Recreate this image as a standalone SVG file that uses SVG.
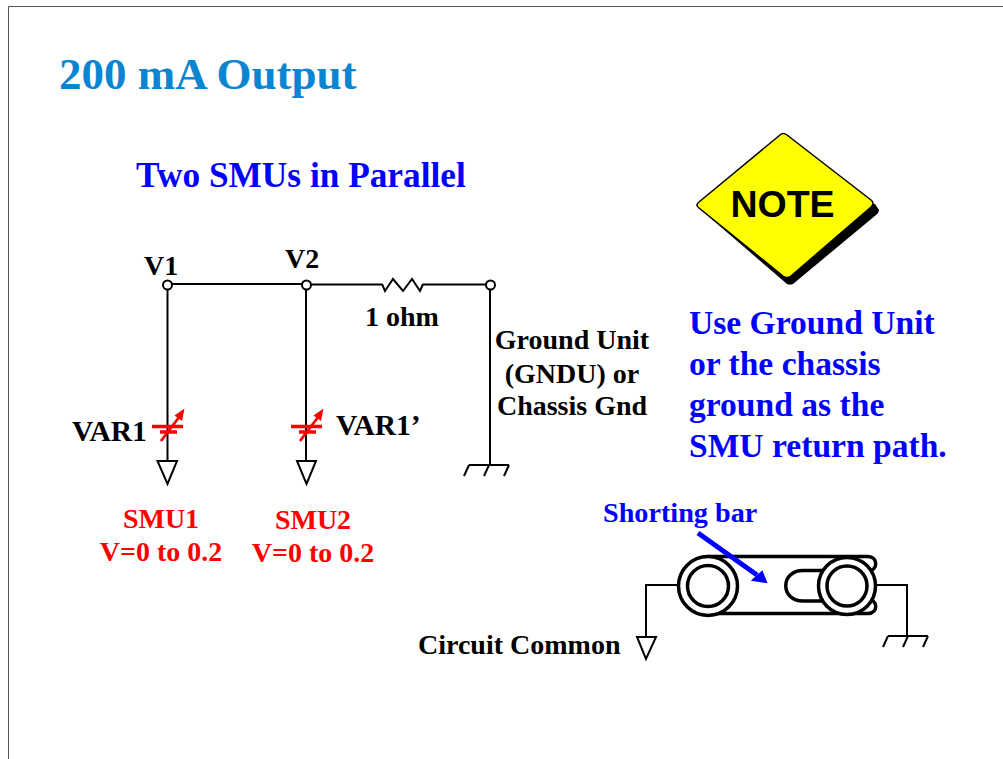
<svg xmlns="http://www.w3.org/2000/svg" width="1003" height="759" viewBox="0 0 1003 759">
<defs>
<style>
text{font-family:"Liberation Serif","Times New Roman",serif;font-weight:bold}
.k{fill:#000;font-size:28px}
.v{fill:#000;font-size:29.500px}
.b{fill:#0000ff}
.r{fill:#ff0000;font-size:28px}
.w{fill:none;stroke:#000;stroke-width:2}
.t{fill:#fff;stroke:#000;stroke-width:2}
.h{fill:none;stroke:#000;stroke-width:3.500}
.c{stroke:#f00;stroke-width:3.500;fill:none}
</style>
<g id="cap">
<path class="c" d="M-15.500 0H15.500M-7.500 5.500H9.500"/>
<path d="M-6.500 14.500L12 -10" stroke="#f00" stroke-width="2.800" fill="none"/>
<path d="M17 -18L14.500 -5.500L7 -11Z" fill="#f00"/>
</g>
<g id="gnd">
<path class="w" d="M-19 0H21M-19 0L-24 11M1 0L-4 11M21 0L16 11"/>
</g>
</defs>
<rect width="1003" height="759" fill="#fff"/>
<g id="frame"><path d="M8.500 759V6.500H1003" fill="none" stroke="#555" stroke-width="1"/></g>
<g id="connectors">
<path class="w" d="M167.500 284H306M306 284.500H382M423 284.500H490"/>
<path class="w" d="M382 284L385 291L393 279L403 291L412 279L420 291L423 284"/>
<path class="w" d="M167.500 285V461M306 285V461M490 285V465"/>
<path class="w" d="M677 585H646V637M877 585H907V636"/>
</g>
<text id="title" x="59" y="89" font-size="45" fill="#0a85d1">200 mA Output</text>
<text id="subtitle" x="136" y="187" font-size="35.300" class="b">Two SMUs in Parallel</text>
<g id="v1"><circle class="t" cx="167.500" cy="285" r="4.500"/><text class="k" x="144" y="275">V1</text></g>
<g id="v2"><circle class="t" cx="306.500" cy="285" r="4.500"/><text class="k" x="285" y="268">V2</text></g>
<g id="r1"><text class="k" x="365" y="326">1 ohm</text></g>
<g id="gndu-node"><circle class="t" cx="490.500" cy="285" r="4.500"/>
<use href="#gnd" x="488" y="465"/>
<text class="k" x="572" y="349" text-anchor="middle">Ground Unit</text>
<text class="k" x="572" y="383" text-anchor="middle">(GNDU) or</text>
<text class="k" x="572" y="415" text-anchor="middle">Chassis Gnd</text></g>
<g id="var1"><use href="#cap" x="167.500" y="426.500"/>
<path class="t" d="M157.500 461H177L167.500 484Z"/>
<text class="v" x="72" y="441">VAR1</text></g>
<g id="var1p"><use href="#cap" x="306.500" y="426.500"/>
<path class="t" d="M297 461H316L306.500 484Z"/>
<text class="v" x="336" y="435">VAR1’</text></g>
<g id="smu1"><text class="r" x="161" y="528" text-anchor="middle">SMU1</text><text class="r" x="161" y="561" text-anchor="middle">V=0 to 0.2</text></g>
<g id="smu2"><text class="r" x="313" y="529" text-anchor="middle">SMU2</text><text class="r" x="313" y="562" text-anchor="middle">V=0 to 0.2</text></g>
<g id="note">
<path d="M875 204L879 210Q879 213 876 215L793 284Q790 285 787 284L700 209L696 205Z" fill="#000"/>
<path d="M780 135Q783 132 787 135L871 200Q875 203 871 207L791 276Q787 279 783 276L699 208Q695 205 699 202Z" fill="#ff0" stroke="#000" stroke-width="1.500"/>
<text x="782.500" y="217" font-size="37.500" text-anchor="middle" style="font-family:'Liberation Sans',Arial,sans-serif">NOTE</text>
</g>
<g id="note-text" class="b" font-size="33.600">
<text x="689" y="334">Use Ground Unit</text>
<text x="689" y="375">or the chassis</text>
<text x="689" y="416">ground as the</text>
<text x="689" y="457">SMU return path.</text>
</g>
<g id="shorting-bar">
<path class="h" d="M708 556.500H868C878 557 879 570 867 572M708 613.500H868C878 613 879 600 867 599M803 570.500H822M803 601H822M803 570.500C780 570.500 780 601 803 601"/>
<circle cx="708" cy="586" r="29.500" fill="#fff" stroke="#000" stroke-width="3.500"/><circle class="h" cx="708" cy="586" r="20.500"/>
<circle cx="847" cy="586" r="28.500" fill="#fff" stroke="#000" stroke-width="3.500"/><circle class="h" cx="847" cy="586" r="20"/>
<path d="M698 533L757 575" stroke="#00f" stroke-width="5" fill="none"/>
<path d="M766 582L753 580L762 572Z" fill="#00f" stroke="#00f" stroke-width="2"/>
<text x="603" y="522" font-size="28.200" class="b">Shorting bar</text>
</g>
<g id="circuit-common"><path class="t" d="M637 637H656L646 659Z"/><text class="k" x="418" y="654">Circuit Common</text></g>
<g id="chassis-gnd"><use href="#gnd" x="907" y="636"/></g>
</svg>
